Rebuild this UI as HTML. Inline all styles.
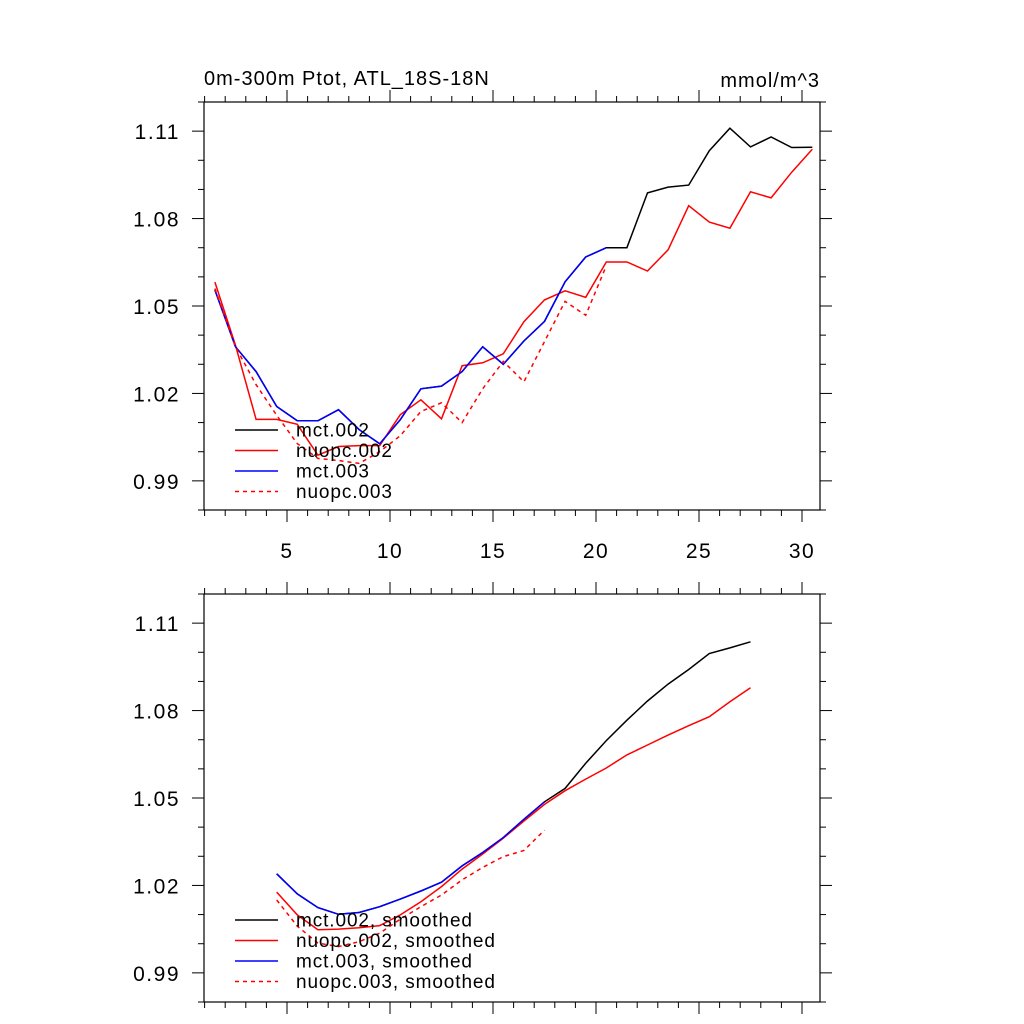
<!DOCTYPE html>
<html><head><meta charset="utf-8"><style>
html,body{margin:0;padding:0;background:#fff;}
svg{display:block;font-family:"Liberation Sans",sans-serif;}
</style></head><body>
<svg id="chart" width="1024" height="1024" viewBox="0 0 1024 1024"></svg>
<script>
const xValues=[1.5,2.5,3.5,4.5,5.5,6.5,7.5,8.5,9.5,10.5,11.5,12.5,13.5,14.5,15.5,16.5,17.5,18.5,19.5,20.5,21.5,22.5,23.5,24.5,25.5,26.5,27.5,28.5,29.5,30.5];
const mct002=[1.0555,1.036,1.0275,1.0155,1.0106,1.0106,1.0144,1.0076,1.0027,1.011,1.0216,1.0225,1.0275,1.036,1.030,1.038,1.0447,1.0583,1.0668,1.070,1.070,1.0888,1.0908,1.0915,1.1033,1.111,1.1046,1.108,1.1044,1.1045];
const nuopc002=[1.0582,1.0365,1.0111,1.0111,1.0094,0.9988,1.0018,1.0021,1.0021,1.0127,1.0178,1.0113,1.0295,1.0305,1.0336,1.0446,1.0521,1.0552,1.053,1.0651,1.0651,1.062,1.0693,1.0844,1.0788,1.0767,1.0892,1.0871,1.0959,1.1038];
const mct003=[1.0555,1.036,1.0275,1.0155,1.0106,1.0106,1.0144,1.0076,1.0027,1.011,1.0216,1.0225,1.0275,1.036,1.030,1.038,1.0447,1.0583,1.0668,1.070];
const nuopc003=[1.056,1.036,1.023,1.0125,1.0028,0.9977,0.997,0.996,1.000,1.0055,1.0138,1.0168,1.010,1.0216,1.031,1.024,1.0378,1.0516,1.0468,1.0638];
const xSmooth=[4.5,5.5,6.5,7.5,8.5,9.5,10.5,11.5,12.5,13.5,14.5,15.5,16.5,17.5,18.5,19.5,20.5,21.5,22.5,23.5,24.5,25.5,26.5,27.5];
const mct002s=[1.024,1.0171,1.0124,1.0101,1.0107,1.0127,1.0153,1.0181,1.0211,1.0267,1.0313,1.0364,1.0427,1.0487,1.0533,1.0619,1.0697,1.0767,1.0833,1.0891,1.0941,1.0996,1.1015,1.1036];
const nuopc002s=[1.0177,1.0099,1.0048,1.005,1.0055,1.0062,1.0099,1.0144,1.0196,1.0256,1.0308,1.0362,1.0421,1.0478,1.0525,1.0565,1.0603,1.0648,1.0682,1.0716,1.0748,1.0779,1.083,1.0878];
const mct003s=[1.024,1.0171,1.0124,1.0101,1.0107,1.0127,1.0153,1.0181,1.0211,1.0267,1.0313,1.0364,1.0427,1.0487];
const nuopc003s=[1.015,1.006,1.0002,0.999,1.0007,1.0036,1.0084,1.0127,1.0167,1.0219,1.0262,1.0299,1.032,1.039];
const yTickVals=[0.99,1.02,1.05,1.08,1.11];
const yTickLabels=["0.99","1.02","1.05","1.08","1.11"];
const xTickVals=[5,10,15,20,25,30];
const xTickLabels=["5","10","15","20","25","30"];

const NS="http://www.w3.org/2000/svg";
const svg=document.getElementById('chart');
const X0=204.6,XS=20.6;
function xs(v){return X0+(v-1)*XS;}
function mk(tag,attrs,parent){const e=document.createElementNS(NS,tag);for(const k in attrs)e.setAttribute(k,attrs[k]);(parent||svg).appendChild(e);return e;}

function panel(top,name,showXLabels,series,legendTop){
  const bottom=top+408, left=204, right=820;
  const ys=v=>top+(1.12-v)/0.14*408;
  const g=mk('g',{});
  
  
  const frame=mk('rect',{x:left,y:top,width:right-left,height:bottom-top,fill:'none',stroke:'#000','stroke-width':1.2},g);
  
  
  for(let i=0;i<=14;i++){
    const v=0.98+i*0.01; const y=ys(v); const major=yTickVals.some(t=>Math.abs(t-v)<1e-6);
    const L=major?12:6;
    mk('line',{x1:left-L,y1:y,x2:left,y2:y,stroke:'#000','stroke-width':1},g);
    mk('line',{x1:right,y1:y,x2:right+L,y2:y,stroke:'#000','stroke-width':1},g);
  }
  yTickVals.forEach((v,i)=>{
    const t=mk('text',{x:180,y:ys(v)+8,'text-anchor':'end','font-size':21,'letter-spacing':1.5},g);
    t.textContent=yTickLabels[i];
    
    
  });
  for(let v=1;v<=30;v++){
    const x=xs(v); const major=v%5===0; const L=major?12:6;
    mk('line',{x1:x,y1:bottom,x2:x,y2:bottom+L,stroke:'#000','stroke-width':1},g);
    mk('line',{x1:x,y1:top-L,x2:x,y2:top,stroke:'#000','stroke-width':1},g);
  }
  if(showXLabels){
    xTickVals.forEach((v,i)=>{
      const t=mk('text',{x:xs(v),y:bottom+48,'text-anchor':'middle','font-size':21,'letter-spacing':1.5},g);
      t.textContent=xTickLabels[i];
      
      
    });
  }
  series.forEach(s=>{
    const pts=s.y.map((v,i)=>xs(s.x[i]).toFixed(1)+','+ys(v).toFixed(1)).join(' ');
    const p=mk('polyline',{points:pts,fill:'none',stroke:s.c,'stroke-width':1.5,'stroke-dasharray':s.d?'4,4':'none'},g);
    
    
  });
  series.forEach((s,i)=>{
    const y=legendTop+i*20.5;
    const l=mk('line',{x1:235,y1:y,x2:278,y2:y,stroke:s.c,'stroke-width':1.5,'stroke-dasharray':s.d?'4,4':'none'},g);
    
    
    const t=mk('text',{x:296,y:y+6.5,'font-size':19,'letter-spacing':0.9},g);
    t.textContent=s.label;
    
    
  });
}
panel(102,'top-panel',true,[
 {x:xValues,y:mct002,c:'#000',n:'line-mct002',label:'mct.002'},
 {x:xValues,y:nuopc002,c:'#f00',n:'line-nuopc002',label:'nuopc.002'},
 {x:xValues,y:mct003,c:'#00f',n:'line-mct003',label:'mct.003'},
 {x:xValues,y:nuopc003,c:'#f00',d:true,n:'line-nuopc003',label:'nuopc.003'}
],430);
panel(594,'bottom-panel',false,[
 {x:xSmooth,y:mct002s,c:'#000',n:'line-mct002-smoothed',label:'mct.002, smoothed'},
 {x:xSmooth,y:nuopc002s,c:'#f00',n:'line-nuopc002-smoothed',label:'nuopc.002, smoothed'},
 {x:xSmooth,y:mct003s,c:'#00f',n:'line-mct003-smoothed',label:'mct.003, smoothed'},
 {x:xSmooth,y:nuopc003s,c:'#f00',d:true,n:'line-nuopc003-smoothed',label:'nuopc.003, smoothed'}
],920);
const t1=mk('text',{x:204,y:85,'font-size':20,'letter-spacing':1});
t1.textContent='0m-300m Ptot, ATL_18S-18N';


const t2=mk('text',{x:820,y:87,'font-size':20,'letter-spacing':1,'text-anchor':'end'});
t2.textContent='mmol/m^3';


</script>
</body></html>
